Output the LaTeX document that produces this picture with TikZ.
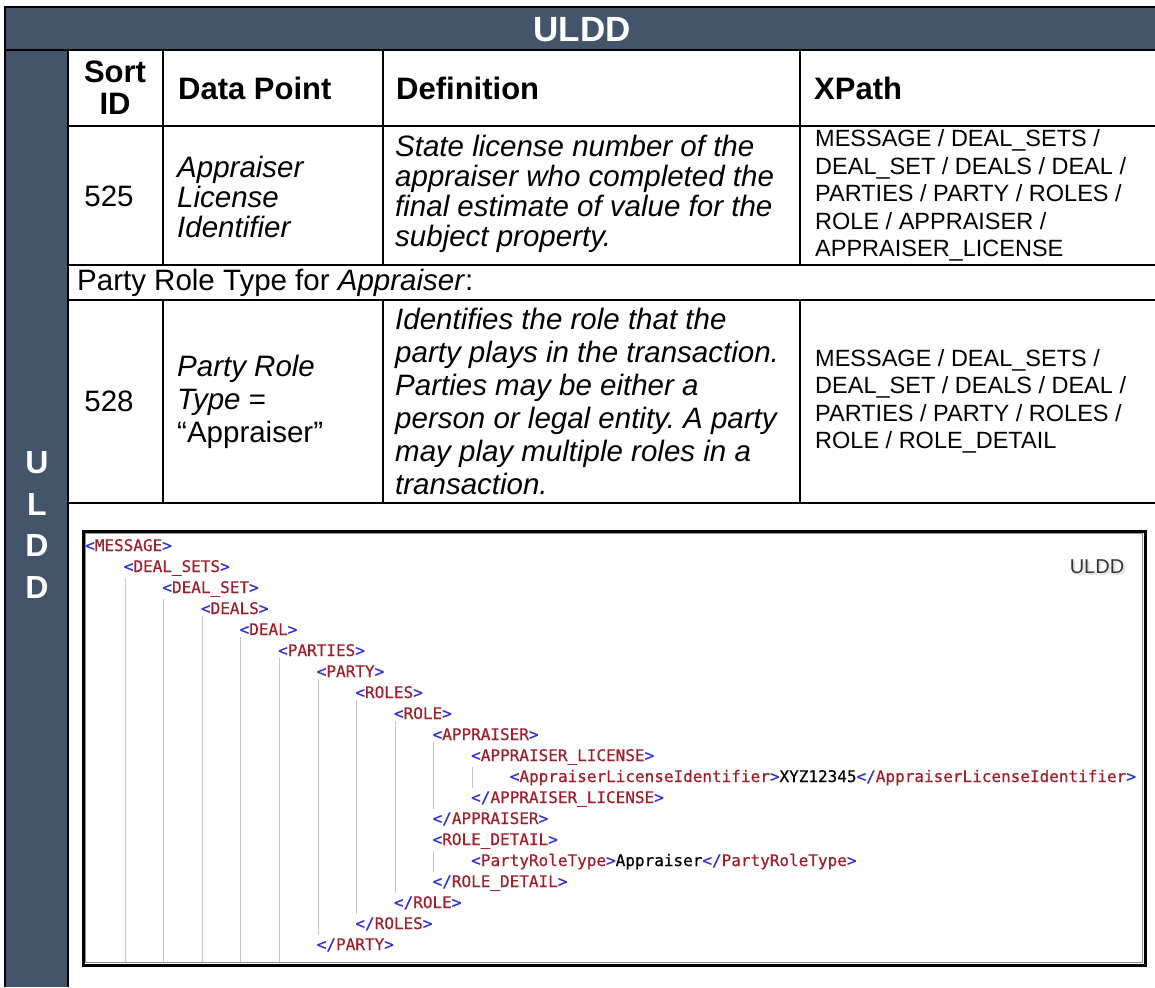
\documentclass[tikz,border=0pt]{standalone}
\usepackage{fontspec}
\setmainfont{Liberation Sans}
\newfontfamily\xmlfont{DejaVu Sans Mono}[FakeBold=0.5]
\definecolor{hdr}{HTML}{44546A}
\definecolor{xblue}{HTML}{3030D8}
\definecolor{xred}{HTML}{A01E2A}
\definecolor{guide}{HTML}{C4C4C4}
\newcommand\xo[1]{\textcolor{xblue}{<}\textcolor{xred}{#1}\textcolor{xblue}{>}}
\newcommand\xc[1]{\textcolor{xblue}{</}\textcolor{xred}{#1}\textcolor{xblue}{>}}
\frenchspacing
\tikzset{
  outerline/.style={line width=2.6pt, black},
  gridline/.style={line width=2pt, black},
  titletext/.style={inner sep=0pt, text=white, font=\bfseries\fontsize{35}{40}\selectfont},
  vletters/.style={inner sep=0pt, text=white, align=center, font=\bfseries\fontsize{32}{41.5}\selectfont},
  headtext/.style={inner sep=0pt, align=left, font=\bfseries\fontsize{31}{32}\selectfont},
  bodytext/.style={inner sep=0pt, align=left, font=\frenchspacing\fontsize{29.5}{33}\selectfont},
  bodyital/.style={inner sep=0pt, align=left, font=\frenchspacing\itshape\fontsize{29.5}{33}\selectfont},
  tightital/.style={inner sep=0pt, align=left, font=\frenchspacing\itshape\fontsize{29.5}{30}\selectfont},
  xpathtext/.style={inner sep=0pt, align=left, font=\fontsize{23.5}{27.5}\selectfont},
  shotframe/.style={line width=3pt, black},
  xmlline/.style={inner sep=0pt, anchor=base west, font=\xmlfont\fontsize{16}{18}\selectfont},
  guideline/.style={guide, line width=1.1pt},
  shotlabel/.style={inner sep=0pt, text=black!80, font=\fontsize{20}{24}\selectfont}
}
\begin{document}
\begin{tikzpicture}[x=1pt,y=-1pt]
\useasboundingbox (0,0) rectangle (1155,987);
\fill[white] (0,0) rectangle (1155,987);
% header band and left column
\fill[hdr] (5,7) rectangle (1155,50);
\fill[hdr] (5,50) rectangle (68,987);
% table grid
\draw[gridline] (68,126) -- (1155,126);
\draw[gridline] (68,265) -- (1155,265);
\draw[gridline] (68,300) -- (1155,300);
\draw[gridline] (68,503) -- (1155,503);
\foreach \cx in {163,383,800} {
  \draw[gridline] (\cx,50) -- (\cx,265);
  \draw[gridline] (\cx,300) -- (\cx,503);
}
\draw[outerline] (1155,7) -- (5,7) -- (5,987);
\draw[outerline] (5,50) -- (1155,50);
\draw[outerline] (68,50) -- (68,987);
% titles
\node[titletext] (title) at (582,30) {ULDD};
\node[vletters] (side) at (37,525) {U\\L\\D\\D};
% column headers
\node[headtext, align=center] (hsort) at (115,88) {Sort\\ID};
\node[headtext, anchor=west] (hdp) at (178,88) {Data Point};
\node[headtext, anchor=west] (hdef) at (396,88) {Definition};
\node[headtext, anchor=west] (hxp) at (814,88) {XPath};
% row 525
\node[bodytext] (s525) at (109,196) {525};
\node[tightital, anchor=west] (dp525) at (177,197) {Appraiser\\License\\Identifier};
\node[tightital, anchor=west] (def525) at (395,194) {State license number of the\\appraiser who completed the\\final estimate of value for the\\subject property.};
\node[xpathtext, anchor=west] (xp525) at (815,195.5) {MESSAGE / DEAL\_SETS /\\DEAL\_SET / DEALS / DEAL /\\PARTIES / PARTY / ROLES /\\ROLE / APPRAISER /\\APPRAISER\_LICENSE};
% sub-heading row
\node[bodytext, anchor=west] (prt) at (77,283) {Party Role Type for \textit{Appraiser}:};
% row 528
\node[bodytext] (s528) at (109,401.5) {528};
\node[bodytext, anchor=west] (dp528) at (177,401.5) {\textit{Party Role}\\\textit{Type} =\\“Appraiser”};
\node[bodyital, anchor=west] (def528) at (395,401.5) {Identifies the role that the\\party plays in the transaction.\\Parties may be either a\\person or legal entity. A party\\may play multiple roles in a\\transaction.};
\node[xpathtext, anchor=west] (xp528) at (815,401.5) {MESSAGE / DEAL\_SETS /\\DEAL\_SET / DEALS / DEAL /\\PARTIES / PARTY / ROLES /\\ROLE / ROLE\_DETAIL};
% screenshot
\coordinate (boxbottom) at (0,963);
\node[shotlabel, text=black!12] at (1099,569) {ULDD};
\node[shotlabel] (shotlbl) at (1097,567) {ULDD};
\node[xmlline] (m0) at (85,551) {\xo{MESSAGE}};
\node[xmlline] (m1) at (123.6,572) {\xo{DEAL\_SETS}};
\node[xmlline] (m2) at (162.2,593) {\xo{DEAL\_SET}};
\node[xmlline] (m3) at (200.8,614) {\xo{DEALS}};
\node[xmlline] (m4) at (239.4,635) {\xo{DEAL}};
\node[xmlline] (m5) at (278,656) {\xo{PARTIES}};
\node[xmlline] (m6) at (316.6,677) {\xo{PARTY}};
\node[xmlline] (m7) at (355.2,698) {\xo{ROLES}};
\node[xmlline] (m8) at (393.8,719) {\xo{ROLE}};
\node[xmlline] (m9) at (432.4,740) {\xo{APPRAISER}};
\node[xmlline] (m10) at (471,761) {\xo{APPRAISER\_LICENSE}};
\node[xmlline] (m11) at (509.6,782) {\xo{AppraiserLicenseIdentifier}XYZ12345\xc{AppraiserLicenseIdentifier}};
\node[xmlline] (c10) at (471,803) {\xc{APPRAISER\_LICENSE}};
\node[xmlline] (c9) at (432.4,824) {\xc{APPRAISER}};
\node[xmlline] (m14) at (432.4,845) {\xo{ROLE\_DETAIL}};
\node[xmlline] (m15) at (471,866) {\xo{PartyRoleType}Appraiser\xc{PartyRoleType}};
\node[xmlline] (c14) at (432.4,887) {\xc{ROLE\_DETAIL}};
\node[xmlline] (c8) at (393.8,908) {\xc{ROLE}};
\node[xmlline] (c7) at (355.2,929) {\xc{ROLES}};
\node[xmlline] (c6) at (316.6,950) {\xc{PARTY}};
% guide lines
\foreach \n in {m1,m2,m3,m4,m5} {
  \draw[guideline] ([xshift=1.5pt,yshift=-2pt]\n.south west) -- ([xshift=1.5pt]\n.south west |- boxbottom);
}
\foreach \a/\b in {m6/c6,m7/c7,m8/c8,m9/c9,m10/c10,m14/c14} {
  \draw[guideline] ([xshift=1.5pt,yshift=-2pt]\a.south west) -- ([xshift=1.5pt,yshift=3pt]\b.north west);
}
\draw[shotframe] (83,531) rectangle (1145,965);
\draw[black!45, line width=0.8pt] (85.5,533.5) rectangle (1142.5,962.5);
\end{tikzpicture}
\end{document}
